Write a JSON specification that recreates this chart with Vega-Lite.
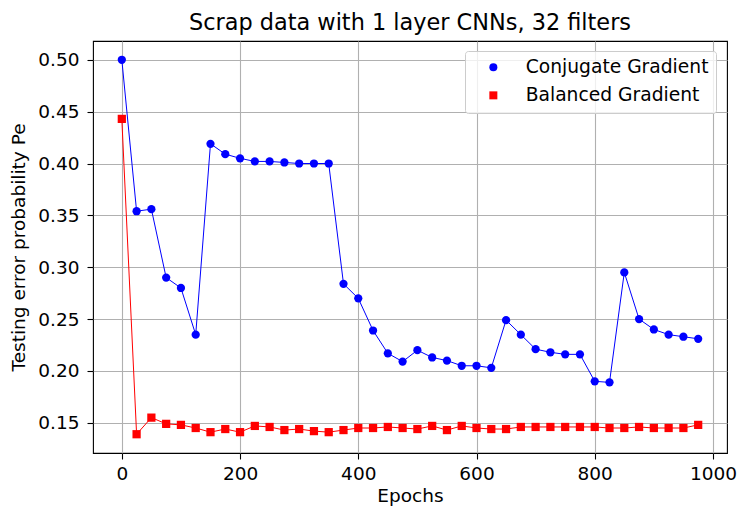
{
  "$schema": "https://vega.github.io/schema/vega-lite/v6.json",
  "width": 634,
  "height": 412,
  "autosize": {"type": "none"},
  "padding": {"left": 93, "top": 41, "right": 12, "bottom": 59},
  "background": "white",
  "title": {
    "text": "Scrap data with 1 layer CNNs, 32 filters",
    "fontSize": 22.4,
    "font": "DejaVu Sans",
    "fontWeight": "normal",
    "color": "black",
    "anchor": "middle",
    "offset": 7
  },
  "data": {
    "values": [
      {"epoch": 0, "series": "Conjugate Gradient", "pe": 0.500},
      {"epoch": 25, "series": "Conjugate Gradient", "pe": 0.354},
      {"epoch": 50, "series": "Conjugate Gradient", "pe": 0.356},
      {"epoch": 75, "series": "Conjugate Gradient", "pe": 0.290},
      {"epoch": 100, "series": "Conjugate Gradient", "pe": 0.280},
      {"epoch": 125, "series": "Conjugate Gradient", "pe": 0.235},
      {"epoch": 150, "series": "Conjugate Gradient", "pe": 0.419},
      {"epoch": 175, "series": "Conjugate Gradient", "pe": 0.409},
      {"epoch": 200, "series": "Conjugate Gradient", "pe": 0.405},
      {"epoch": 225, "series": "Conjugate Gradient", "pe": 0.402},
      {"epoch": 250, "series": "Conjugate Gradient", "pe": 0.402},
      {"epoch": 275, "series": "Conjugate Gradient", "pe": 0.401},
      {"epoch": 300, "series": "Conjugate Gradient", "pe": 0.400},
      {"epoch": 325, "series": "Conjugate Gradient", "pe": 0.400},
      {"epoch": 350, "series": "Conjugate Gradient", "pe": 0.400},
      {"epoch": 375, "series": "Conjugate Gradient", "pe": 0.284},
      {"epoch": 400, "series": "Conjugate Gradient", "pe": 0.270},
      {"epoch": 425, "series": "Conjugate Gradient", "pe": 0.239},
      {"epoch": 450, "series": "Conjugate Gradient", "pe": 0.217},
      {"epoch": 475, "series": "Conjugate Gradient", "pe": 0.209},
      {"epoch": 500, "series": "Conjugate Gradient", "pe": 0.220},
      {"epoch": 525, "series": "Conjugate Gradient", "pe": 0.213},
      {"epoch": 550, "series": "Conjugate Gradient", "pe": 0.210},
      {"epoch": 575, "series": "Conjugate Gradient", "pe": 0.205},
      {"epoch": 600, "series": "Conjugate Gradient", "pe": 0.205},
      {"epoch": 625, "series": "Conjugate Gradient", "pe": 0.203},
      {"epoch": 650, "series": "Conjugate Gradient", "pe": 0.249},
      {"epoch": 675, "series": "Conjugate Gradient", "pe": 0.235},
      {"epoch": 700, "series": "Conjugate Gradient", "pe": 0.221},
      {"epoch": 725, "series": "Conjugate Gradient", "pe": 0.218},
      {"epoch": 750, "series": "Conjugate Gradient", "pe": 0.216},
      {"epoch": 775, "series": "Conjugate Gradient", "pe": 0.216},
      {"epoch": 800, "series": "Conjugate Gradient", "pe": 0.190},
      {"epoch": 825, "series": "Conjugate Gradient", "pe": 0.189},
      {"epoch": 850, "series": "Conjugate Gradient", "pe": 0.295},
      {"epoch": 875, "series": "Conjugate Gradient", "pe": 0.250},
      {"epoch": 900, "series": "Conjugate Gradient", "pe": 0.240},
      {"epoch": 925, "series": "Conjugate Gradient", "pe": 0.235},
      {"epoch": 950, "series": "Conjugate Gradient", "pe": 0.233},
      {"epoch": 975, "series": "Conjugate Gradient", "pe": 0.231},
      {"epoch": 0, "series": "Balanced Gradient", "pe": 0.443},
      {"epoch": 25, "series": "Balanced Gradient", "pe": 0.139},
      {"epoch": 50, "series": "Balanced Gradient", "pe": 0.155},
      {"epoch": 75, "series": "Balanced Gradient", "pe": 0.149},
      {"epoch": 100, "series": "Balanced Gradient", "pe": 0.148},
      {"epoch": 125, "series": "Balanced Gradient", "pe": 0.145},
      {"epoch": 150, "series": "Balanced Gradient", "pe": 0.141},
      {"epoch": 175, "series": "Balanced Gradient", "pe": 0.144},
      {"epoch": 200, "series": "Balanced Gradient", "pe": 0.141},
      {"epoch": 225, "series": "Balanced Gradient", "pe": 0.147},
      {"epoch": 250, "series": "Balanced Gradient", "pe": 0.146},
      {"epoch": 275, "series": "Balanced Gradient", "pe": 0.143},
      {"epoch": 300, "series": "Balanced Gradient", "pe": 0.144},
      {"epoch": 325, "series": "Balanced Gradient", "pe": 0.142},
      {"epoch": 350, "series": "Balanced Gradient", "pe": 0.141},
      {"epoch": 375, "series": "Balanced Gradient", "pe": 0.143},
      {"epoch": 400, "series": "Balanced Gradient", "pe": 0.145},
      {"epoch": 425, "series": "Balanced Gradient", "pe": 0.145},
      {"epoch": 450, "series": "Balanced Gradient", "pe": 0.146},
      {"epoch": 475, "series": "Balanced Gradient", "pe": 0.145},
      {"epoch": 500, "series": "Balanced Gradient", "pe": 0.144},
      {"epoch": 525, "series": "Balanced Gradient", "pe": 0.147},
      {"epoch": 550, "series": "Balanced Gradient", "pe": 0.143},
      {"epoch": 575, "series": "Balanced Gradient", "pe": 0.147},
      {"epoch": 600, "series": "Balanced Gradient", "pe": 0.145},
      {"epoch": 625, "series": "Balanced Gradient", "pe": 0.144},
      {"epoch": 650, "series": "Balanced Gradient", "pe": 0.144},
      {"epoch": 675, "series": "Balanced Gradient", "pe": 0.146},
      {"epoch": 700, "series": "Balanced Gradient", "pe": 0.146},
      {"epoch": 725, "series": "Balanced Gradient", "pe": 0.146},
      {"epoch": 750, "series": "Balanced Gradient", "pe": 0.146},
      {"epoch": 775, "series": "Balanced Gradient", "pe": 0.146},
      {"epoch": 800, "series": "Balanced Gradient", "pe": 0.146},
      {"epoch": 825, "series": "Balanced Gradient", "pe": 0.145},
      {"epoch": 850, "series": "Balanced Gradient", "pe": 0.145},
      {"epoch": 875, "series": "Balanced Gradient", "pe": 0.146},
      {"epoch": 900, "series": "Balanced Gradient", "pe": 0.145},
      {"epoch": 925, "series": "Balanced Gradient", "pe": 0.145},
      {"epoch": 950, "series": "Balanced Gradient", "pe": 0.145},
      {"epoch": 975, "series": "Balanced Gradient", "pe": 0.148}
    ]
  },
  "encoding": {
    "x": {
      "field": "epoch",
      "type": "quantitative",
      "scale": {"domain": [-48.75, 1023.75], "nice": false, "zero": false},
      "axis": {"title": "Epochs", "values": [0, 200, 400, 600, 800, 1000], "format": "d", "labelPadding": 5, "titlePadding": 4}
    },
    "y": {
      "field": "pe",
      "type": "quantitative",
      "scale": {"domain": [0.1209, 0.5181], "nice": false, "zero": false},
      "axis": {
        "title": "Testing error probability Pe",
        "values": [0.15, 0.2, 0.25, 0.3, 0.35, 0.4, 0.45, 0.5],
        "format": ".2f",
        "labelPadding": 8,
        "titlePadding": 9
      }
    }
  },
  "layer": [
    {
      "transform": [{"filter": "datum.series === 'Conjugate Gradient'"}],
      "mark": {"type": "line", "strokeWidth": 1, "color": "#0000ff"}
    },
    {
      "transform": [{"filter": "datum.series === 'Balanced Gradient'"}],
      "mark": {"type": "line", "strokeWidth": 1, "color": "#ff0000"}
    },
    {
      "mark": {"type": "point", "filled": true, "opacity": 1, "size": 68},
      "encoding": {
        "color": {
          "field": "series",
          "type": "nominal",
          "scale": {"domain": ["Conjugate Gradient", "Balanced Gradient"], "range": ["#0000ff", "#ff0000"]},
          "legend": {
            "title": null,
            "orient": "none",
            "legendX": 372,
            "legendY": 10,
            "padding": 7,
            "symbolOffset": 12,
            "labelOffset": 23,
            "rowPadding": 8,
            "labelFontSize": 18.7,
            "labelFont": "DejaVu Sans",
            "labelColor": "black",
            "symbolSize": 64,
            "strokeColor": "#cccccc",
            "fillColor": "rgba(255,255,255,0.8)",
            "cornerRadius": 3,
            "labelLimit": 400
          }
        },
        "shape": {
          "field": "series",
          "type": "nominal",
          "scale": {"domain": ["Conjugate Gradient", "Balanced Gradient"], "range": ["circle", "square"]}
        }
      }
    }
  ],
  "config": {
    "view": {"stroke": "black", "strokeWidth": 1.1},
    "axis": {
      "domain": false,
      "grid": true,
      "gridColor": "#b0b0b0",
      "gridWidth": 1.1,
      "tickColor": "black",
      "tickSize": 6,
      "tickWidth": 1.1,
      "labelFont": "DejaVu Sans",
      "labelFontSize": 18.5,
      "labelColor": "black",
      "titleFont": "DejaVu Sans",
      "titleFontSize": 18.5,
      "titleFontWeight": "normal",
      "titleColor": "black"
    },
    "legend": {"symbolStrokeWidth": 0}
  }
}
